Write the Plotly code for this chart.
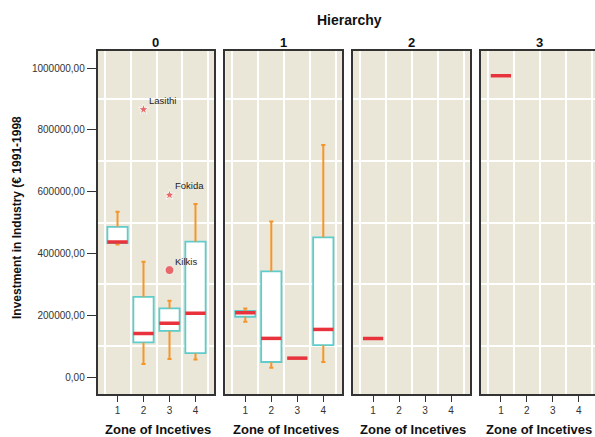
import plotly.graph_objects as go

# ---- data ----
hierarchy = [0, 0, 0, 0, 1, 1, 1, 1, 2, 3]
zone = [1, 2, 3, 4, 1, 2, 3, 4, 1, 1]
lower = [429000, 42000, 58000, 57000, 179000, 30000, None, 48500, None, None]
q1 = [433000, 112000, 149000, 77000, 195000, 48500, None, 103000, None, None]
median = [437000, 141000, 174000, 206000, 208000, 125000, 61000, 154000, 125000, 975000]
q3 = [486000, 259000, 222000, 438000, 214000, 342000, None, 452000, None, None]
upper = [535000, 373000, 247000, 560000, 222000, 503000, None, 751000, None, None]

out_hier = [0, 0, 0]
out_zone = [2, 3, 3]
out_val = [866000, 589000, 346000]
out_label = ["Lasithi", "Fokida", "Kilkis"]
out_extreme = [True, True, False]

panels = [0, 1, 2, 3]
zone_ticks = [1, 2, 3, 4]
y_ticks = [0, 200000, 400000, 600000, 800000, 1000000]
y_ticktext = ["0,00", "200000,00", "400000,00", "600000,00", "800000,00", "1000000,00"]
y_grid = [100000, 300000, 500000, 700000, 900000]
x_grid = [0.5, 1.5, 2.5, 3.5, 4.5]

# ---- style ----
W, H = 595, 437
BG = "#ebe7d8"
TEAL = "#5fcccc"
RED = "#e8333c"
ORANGE = "#f5962a"
AXC = "#333333"
FONT = "Liberation Sans, Arial, sans-serif"
BOXW = 0.78
CAPW = 0.16

fig = go.Figure()

def ax_names(p):
    s = "" if p == 0 else str(p + 1)
    return "x" + s, "y" + s, "xaxis" + s, "yaxis" + s

# per panel traces
for p in panels:
    xa, ya, _, _ = ax_names(p)
    idx = [i for i in range(len(hierarchy)) if hierarchy[i] == p]
    # whiskers
    wx, wy = [], []
    for i in idx:
        if q3[i] is None:
            continue
        z = zone[i]
        wx += [z, z, None, z, z, None,
               z - CAPW / 2, z + CAPW / 2, None, z - CAPW / 2, z + CAPW / 2, None]
        wy += [q3[i], upper[i], None, q1[i], lower[i], None,
               upper[i], upper[i], None, lower[i], lower[i], None]
    if wx:
        fig.add_trace(go.Scatter(x=wx, y=wy, mode="lines", xaxis=xa, yaxis=ya,
                                 line=dict(color=ORANGE, width=2),
                                 showlegend=False, hoverinfo="skip"))
    # boxes
    bi = [i for i in idx if q3[i] is not None]
    if bi:
        fig.add_trace(go.Bar(x=[zone[i] for i in bi],
                             y=[q3[i] - q1[i] for i in bi],
                             base=[q1[i] for i in bi],
                             width=BOXW, xaxis=xa, yaxis=ya,
                             marker=dict(color="white", line=dict(color=TEAL, width=1.8)),
                             showlegend=False, hoverinfo="skip"))
    # medians
    mx, my = [], []
    for i in idx:
        z = zone[i]
        mx += [z - BOXW / 2, z + BOXW / 2, None]
        my += [median[i], median[i], None]
    fig.add_trace(go.Scatter(x=mx, y=my, mode="lines", xaxis=xa, yaxis=ya,
                             line=dict(color=RED, width=3.5),
                             showlegend=False, hoverinfo="skip"))
    # outliers
    oi = [j for j in range(len(out_hier)) if out_hier[j] == p]
    if oi:
        fig.add_trace(go.Scatter(
            x=[out_zone[j] for j in oi], y=[out_val[j] for j in oi], mode="markers",
            xaxis=xa, yaxis=ya,
            marker=dict(color=RED,
                        symbol=["star" if out_extreme[j] else "circle" for j in oi],
                        size=[8 if out_extreme[j] else 9 for j in oi]),
            showlegend=False, hoverinfo="skip"))
        for j in oi:
            fig.add_annotation(x=out_zone[j], y=out_val[j], xref=xa, yref=ya,
                               text=out_label[j], showarrow=False,
                               xanchor="left", yanchor="middle", xshift=3, yshift=9,
                               font=dict(family=FONT, size=9.5, color="#222222"))

# axes layout
layout = {}
left0, pw, step = 97.5, 116.7, 127.8
unit = pw / (4.72 - 0.23)
for p in panels:
    _, _, xk, yk = ax_names(p)
    left = left0 + step * p
    right = min(left + pw, W)
    xr1 = 0.23 + (right - left) / unit
    layout[xk] = dict(
        domain=[left / W, right / W], range=[0.23, xr1], anchor=ax_names(p)[1],
        tickvals=zone_ticks, ticktext=[str(t) for t in zone_ticks],
        ticks="outside", ticklen=6, tickwidth=1.2, tickcolor=AXC,
        showgrid=False, zeroline=False,
        showline=True, linecolor=AXC, linewidth=1.5, mirror=True,
        tickfont=dict(family=FONT, size=10, color="#333333"),
        minor=dict(tickvals=x_grid, showgrid=True, gridcolor="white", gridwidth=1.5, ticks=""),
        fixedrange=True)
    ya = dict(
        domain=[43 / H, 386 / H], range=[-55000, 1055000], anchor=ax_names(p)[0],
        tickvals=y_ticks, ticktext=y_ticktext,
        showgrid=False, zeroline=False,
        showline=True, linecolor=AXC, linewidth=1.5, mirror=(p != 3),
        minor=dict(tickvals=y_grid, showgrid=True, gridcolor="white", gridwidth=1.5, ticks=""),
        fixedrange=True)
    if p == 0:
        ya.update(ticks="outside", ticklen=9, tickwidth=1.2, tickcolor=AXC,
                  showticklabels=True,
                  tickfont=dict(family=FONT, size=10, color="#333333"))
    else:
        ya.update(ticks="", showticklabels=False)
    layout[yk] = ya
    # panel title and x title
    cx = (left + left + pw) / 2
    fig.add_annotation(x=cx / W, y=(H - 42) / H, xref="paper", yref="paper",
                       text="<b>%d</b>" % p, showarrow=False,
                       xanchor="center", yanchor="middle",
                       font=dict(family=FONT, size=13, color="#111111"))
    tx = min(cx + 2, W - 56)
    fig.add_annotation(x=tx / W, y=(H - 429) / H, xref="paper", yref="paper",
                       text="<b>Zone of Incetives</b>", showarrow=False,
                       xanchor="center", yanchor="middle",
                       font=dict(family=FONT, size=13, color="#111111"))

fig.add_annotation(x=349 / W, y=(H - 19.5) / H, xref="paper", yref="paper",
                   text="<b>Hierarchy</b>", showarrow=False,
                   xanchor="center", yanchor="middle",
                   font=dict(family=FONT, size=14, color="#111111"))
fig.add_annotation(x=17 / W, y=(H - 218) / H, xref="paper", yref="paper",
                   text="<b>Investment in Industry (€ 1991-1998</b>", showarrow=False,
                   textangle=-90, xanchor="center", yanchor="middle",
                   font=dict(family=FONT, size=12, color="#111111"))

fig.update_layout(
    width=W, height=H, margin=dict(l=0, r=0, t=0, b=0),
    paper_bgcolor="white", plot_bgcolor=BG, barmode="overlay",
    showlegend=False, **layout)

fig.write_html("out.html", config={"displayModeBar": False})
